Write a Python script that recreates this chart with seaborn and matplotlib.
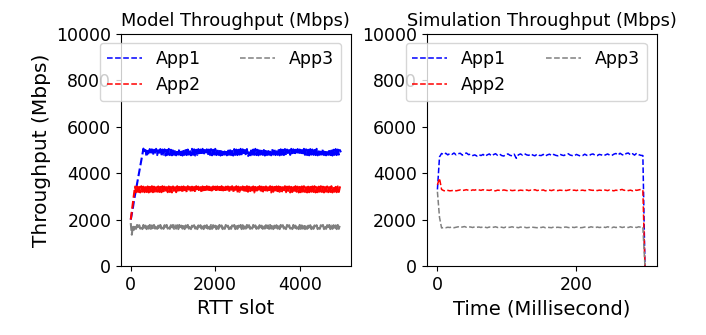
import numpy as np
import pandas as pd
import matplotlib
matplotlib.use("Agg")
import matplotlib.pyplot as plt
import seaborn as sns

# ---------------- data ----------------
apps = ["App1", "App2", "App3"]
colors = ["blue", "red", "grey"]

model_step = 25  # RTT slots between samples
model_app1 = [
    2000, 2250, 2500, 2800, 3050, 3300, 3550, 3800, 4050, 4300, 4550, 4800, 5060, 4880, 5000, 4700, 4960, 4780, 5040, 4790,
    5030, 4770, 5010, 4800, 5050, 4780, 4990, 4790, 5040, 4770, 5020, 4800, 5030, 4760, 5000, 4790, 5050, 4780, 5010, 4770,
    5040, 4790, 5020, 4770, 5000, 4800, 5050, 4780, 5030, 4760, 5010, 4790, 5040, 4780, 5020, 4800, 5000, 4770, 5050, 4790,
    5030, 4760, 5010, 4790, 5040, 4780, 5020, 4770, 5050, 4800, 5000, 4790, 5030, 4760, 5020, 4780, 5040, 4770, 5010, 4800,
    5050, 4780, 5030, 4790, 5000, 4760, 5040, 4780, 5020, 4800, 5010, 4770, 5050, 4790, 5030, 4780, 5000, 4760, 5040, 4790,
    5020, 4780, 5010, 4800, 5050, 4770, 5030, 4790, 5000, 4780, 5040, 4700, 4900, 4680, 4980, 4760, 5020, 4790, 5050, 4780,
    5010, 4770, 5040, 4800, 5020, 4790, 5000, 4760, 5050, 4780, 5030, 4790, 5010, 4770, 5040, 4800, 5020, 4780, 5000, 4790,
    5050, 4770, 5030, 4790, 5010, 4780, 5040, 4760, 5020, 4800, 5000, 4790, 5050, 4780, 5030, 4770, 5010, 4790, 5040, 4800,
    5020, 4780, 5000, 4760, 5050, 4790, 5030, 4780, 5010, 4770, 5040, 4800, 5020, 4790, 5000, 4780, 5050, 4770, 5030, 4790,
    5010, 4800, 5040, 4780, 5020, 4770, 5000, 4790, 5050, 4780, 5030, 4760, 5010, 4790, 5040, 4780, 5020, 4800, 5000, 4900,
]
model_app2 = [
    2000, 2350, 2700, 3050, 3420, 3180, 3430, 3190, 3410, 3170, 3440, 3200, 3420, 3180, 3400, 3190, 3430, 3170, 3410, 3200,
    3440, 3180, 3420, 3170, 3400, 3200, 3430, 3190, 3410, 3180, 3440, 3170, 3420, 3200, 3400, 3180, 3430, 3190, 3410, 3170,
    3430, 3190, 3400, 3180, 3440, 3170, 3410, 3200, 3420, 3180, 3430, 3190, 3400, 3170, 3440, 3200, 3410, 3180, 3420, 3190,
    3410, 3170, 3440, 3200, 3420, 3190, 3400, 3180, 3430, 3170, 3410, 3200, 3440, 3190, 3420, 3180, 3400, 3170, 3430, 3200,
    3420, 3180, 3430, 3190, 3410, 3170, 3440, 3200, 3400, 3180, 3420, 3190, 3430, 3170, 3410, 3200, 3440, 3180, 3400, 3190,
    3440, 3170, 3420, 3200, 3400, 3190, 3430, 3180, 3410, 3170, 3440, 3200, 3420, 3190, 3400, 3180, 3430, 3170, 3410, 3200,
    3400, 3190, 3440, 3180, 3420, 3170, 3410, 3200, 3430, 3190, 3400, 3180, 3440, 3170, 3420, 3200, 3410, 3190, 3430, 3180,
    3430, 3200, 3410, 3170, 3400, 3190, 3440, 3180, 3420, 3200, 3430, 3170, 3410, 3190, 3400, 3180, 3440, 3200, 3420, 3170,
    3410, 3180, 3430, 3200, 3440, 3190, 3400, 3170, 3420, 3180, 3410, 3200, 3430, 3190, 3440, 3170, 3400, 3180, 3420, 3200,
    3440, 3190, 3420, 3170, 3410, 3200, 3430, 3180, 3400, 3190, 3440, 3170, 3420, 3200, 3410, 3180, 3430, 3190, 3400, 3300,
]
model_app3 = [
    1850, 1350, 1760, 1560, 1750, 1600, 1770, 1590, 1760, 1610, 1750, 1590, 1770, 1600, 1740, 1590, 1760, 1610, 1770, 1600,
    1750, 1590, 1770, 1610, 1760, 1600, 1740, 1590, 1770, 1610, 1750, 1600, 1760, 1590, 1770, 1610, 1740, 1600, 1760, 1590,
    1770, 1600, 1750, 1610, 1760, 1590, 1770, 1600, 1740, 1610, 1760, 1590, 1750, 1600, 1770, 1610, 1760, 1590, 1740, 1600,
    1760, 1610, 1770, 1590, 1750, 1600, 1760, 1610, 1770, 1590, 1740, 1600, 1760, 1610, 1750, 1590, 1770, 1600, 1760, 1610,
    1740, 1590, 1760, 1600, 1770, 1610, 1750, 1590, 1760, 1600, 1770, 1610, 1740, 1590, 1760, 1600, 1750, 1610, 1770, 1590,
    1760, 1600, 1740, 1610, 1770, 1590, 1760, 1600, 1750, 1610, 1770, 1590, 1760, 1600, 1740, 1610, 1770, 1590, 1750, 1600,
    1770, 1610, 1760, 1590, 1740, 1600, 1770, 1610, 1760, 1590, 1750, 1600, 1770, 1610, 1760, 1590, 1740, 1600, 1760, 1610,
    1750, 1590, 1770, 1600, 1760, 1610, 1740, 1590, 1770, 1600, 1760, 1610, 1750, 1590, 1770, 1600, 1740, 1610, 1760, 1590,
    1770, 1600, 1750, 1610, 1760, 1590, 1770, 1600, 1740, 1610, 1760, 1590, 1770, 1600, 1750, 1610, 1760, 1590, 1740, 1600,
    1760, 1610, 1770, 1590, 1750, 1600, 1760, 1610, 1770, 1590, 1740, 1600, 1760, 1610, 1750, 1590, 1770, 1600, 1760, 1660,
]

sim_step = 3  # milliseconds between samples
sim_app1 = [
    3300, 4700, 4850, 4800, 4860, 4790, 4850, 4810, 4870, 4790,
    4840, 4860, 4780, 4840, 4870, 4800, 4820, 4760, 4790, 4740,
    4800, 4760, 4810, 4730, 4790, 4830, 4750, 4800, 4840, 4770,
    4820, 4760, 4740, 4810, 4830, 4770, 4750, 4820, 4640, 4790,
    4830, 4780, 4840, 4790, 4770, 4830, 4780, 4750, 4820, 4770,
    4760, 4810, 4740, 4790, 4820, 4760, 4810, 4770, 4750, 4820,
    4780, 4760, 4820, 4840, 4780, 4760, 4750, 4810, 4770, 4740,
    4760, 4820, 4770, 4750, 4810, 4830, 4770, 4760, 4810, 4790,
    4750, 4790, 4830, 4780, 4760, 4820, 4850, 4780, 4860, 4800,
    4770, 4850, 4870, 4790, 4840, 4780, 4860, 4800, 4770, 4760,
    0,
]
sim_app2 = [
    3500, 3780, 3300, 3250, 3230, 3260, 3240, 3250, 3270, 3240,
    3260, 3280, 3250, 3270, 3290, 3260, 3250, 3280, 3270, 3300,
    3280, 3260, 3290, 3250, 3270, 3260, 3280, 3250, 3240, 3270,
    3260, 3250, 3280, 3260, 3240, 3270, 3250, 3260, 3280, 3250,
    3270, 3260, 3240, 3280, 3250, 3270, 3260, 3290, 3250, 3270,
    3260, 3280, 3240, 3260, 3270, 3250, 3280, 3260, 3250, 3270,
    3260, 3280, 3250, 3270, 3290, 3260, 3270, 3250, 3280, 3260,
    3270, 3250, 3260, 3290, 3270, 3260, 3280, 3250, 3270, 3260,
    3290, 3270, 3250, 3280, 3260, 3240, 3270, 3250, 3280, 3300,
    3260, 3280, 3250, 3270, 3240, 3290, 3260, 3280, 3300, 3270,
    0,
]
sim_app3 = [
    3200, 2100, 1640, 1660, 1650, 1670, 1660, 1680, 1650, 1670,
    1690, 1660, 1680, 1700, 1670, 1690, 1680, 1660, 1690, 1670,
    1680, 1660, 1690, 1670, 1650, 1680, 1660, 1670, 1690, 1660,
    1680, 1670, 1650, 1680, 1660, 1670, 1690, 1660, 1670, 1650,
    1680, 1660, 1670, 1650, 1660, 1680, 1670, 1660, 1650, 1670,
    1660, 1680, 1650, 1670, 1660, 1650, 1680, 1660, 1670, 1660,
    1650, 1670, 1680, 1660, 1650, 1670, 1660, 1680, 1670, 1650,
    1660, 1680, 1670, 1660, 1690, 1670, 1650, 1680, 1660, 1670,
    1680, 1660, 1690, 1670, 1650, 1680, 1660, 1670, 1690, 1660,
    1680, 1670, 1660, 1690, 1670, 1680, 1660, 1690, 1670, 1680,
    0,
]

y_ticks = [0, 2000, 4000, 6000, 8000, 10000]
model_xticks = [0, 2000, 4000]
sim_xticks = [0, 200]

# ---------------- figure ----------------
fig = plt.figure(figsize=(7.06, 3.35), dpi=100)
ax1 = fig.add_axes([121 / 706, 69 / 335, 229.7 / 706, 232 / 335])
ax2 = fig.add_axes([426.7 / 706, 69 / 335, 230 / 706, 232 / 335])

model_series = [model_app1, model_app2, model_app3]
sim_series = [sim_app1, sim_app2, sim_app3]

for name, col, vals in zip(apps, colors, model_series):
    x = np.arange(len(vals)) * model_step
    sns.lineplot(x=x, y=vals, ax=ax1, color=col, linestyle="--",
                 linewidth=1.5, label=name)
for name, col, vals in zip(apps, colors, sim_series):
    x = np.arange(len(vals)) * sim_step
    sns.lineplot(x=x, y=vals, ax=ax2, color=col, linestyle="--",
                 linewidth=1.1, label=name)

for ax, title, xlabel, xt, xlim in [
    (ax1, "Model Throughput (Mbps)", "RTT slot", model_xticks, (-231, 5207)),
    (ax2, "Simulation Throughput (Mbps)", "Time (Millisecond)", sim_xticks, (-15.5, 317)),
]:
    ax.set_ylim(0, 10000)
    ax.set_yticks(y_ticks)
    ax.set_xticks(xt)
    ax.set_xlim(*xlim)
    ax.set_title(title, fontsize=12.8)
    ax.set_xlabel(xlabel, fontsize=14)
    ax.tick_params(labelsize=12.5)
    leg = ax.legend(ncol=2, fontsize=12.5, loc="upper left", columnspacing=2.3,
                    bbox_to_anchor=(-0.092, 0.962), borderaxespad=0)
    for h in leg.get_lines():
        h.set_linewidth(1.1)

ax1.set_ylabel("Throughput (Mbps)", fontsize=14.5)
ax2.set_ylabel("")

fig.savefig("out.png", dpi=100)
